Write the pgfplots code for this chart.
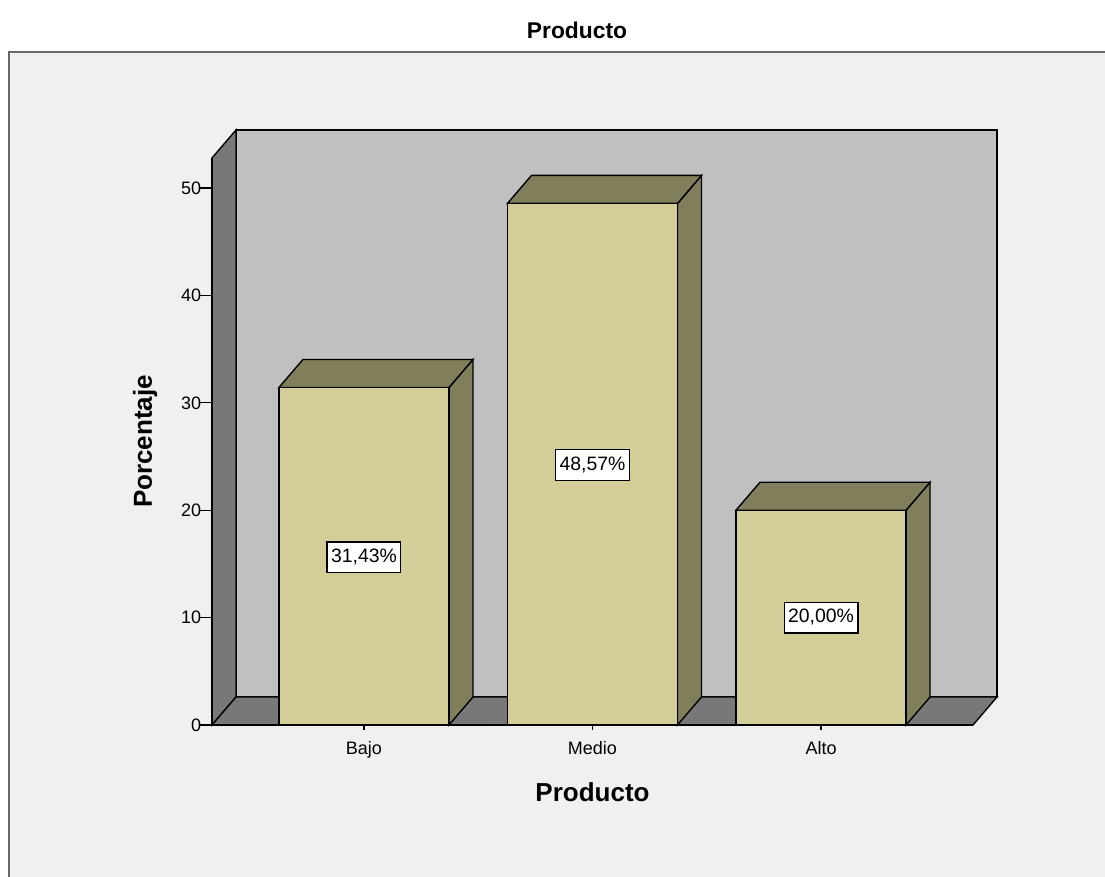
\documentclass[border=0pt]{standalone}
\usepackage{fontspec}
\setmainfont{Liberation Sans}
\usepackage{pgfplots}
\pgfplotsset{compat=1.18}
\definecolor{barfront}{RGB}{211,206,151}
\definecolor{bardark}{RGB}{128,126,91}
\definecolor{backwall}{RGB}{192,192,192}
\definecolor{sidewall}{RGB}{120,120,120}
\definecolor{panel}{RGB}{240,240,240}
\definecolor{panelborder}{RGB}{105,105,105}
\begin{document}
\begin{tikzpicture}
\fill[white] (-106pt,-76pt) rectangle (446.5pt,362.5pt);
\fill[panel] (-101.5pt,-76pt) rectangle (446.5pt,336.5pt);
\draw[panelborder, line width=1pt] (-101.5pt,-76pt) -- (-101.5pt,336.5pt) -- (446.5pt,336.5pt);
\node[font=\bfseries\fontsize{11.4}{13}\selectfont] at (182.5pt,347.5pt) {Producto};
\begin{axis}[
  at={(0,0)}, anchor=south west,
  scale only axis, width=380.5pt, height=283.5pt,
  xmin=-0.665, xmax=2.665, ymin=0, ymax=52.8,
  clip=false, axis on top,
  axis x line*=bottom, axis y line*=left,
  axis line style={line width=0.7pt, black},
  tick align=outside,
  xtick={0,1,2}, xticklabels={Bajo,Medio,Alto},
  ytick={0,10,20,30,40,50},
  xtick style={black, line width=0.6pt, /pgfplots/major tick length=2.5pt},
  ytick style={black, line width=0.6pt, /pgfplots/major tick length=6.5pt},
  /pgf/number format/assume math mode=true,
  tick label style={font=\fontsize{9}{10}\selectfont},
  yticklabel style={inner sep=1pt},
  xticklabel style={inner sep=2pt, yshift=-2pt},
  xlabel={Producto},
  xlabel style={font=\bfseries\fontsize{13}{15}\selectfont, at={(axis description cs:0.5,-0.118)}, anchor=center},
  ylabel={Porcentaje},
  ylabel style={font=\bfseries\fontsize{13}{15}\selectfont, at={(axis description cs:-0.088,0.5)}, anchor=center, rotate=0},
]
% back wall, left wall, floor
\addplot[fill=backwall, draw=black, line width=0.7pt] coordinates {(-0.56,2.607) (2.77,2.607) (2.77,55.407) (-0.56,55.407)} -- cycle;
\addplot[fill=sidewall, draw=black, line width=0.7pt] coordinates {(-0.665,0) (-0.665,52.8) (-0.56,55.407) (-0.56,2.607)} -- cycle;
\addplot[fill=sidewall, draw=black, line width=0.7pt] coordinates {(-0.665,0) (2.665,0) (2.77,2.607) (-0.56,2.607)} -- cycle;
% bar sides
\addplot[fill=bardark, draw=black, line width=0.7pt] coordinates {(0.372,0) (0.372,31.43) (0.477,34.037) (0.477,2.607)} -- cycle;
\addplot[fill=bardark, draw=black, line width=0.7pt] coordinates {(1.372,0) (1.372,48.57) (1.477,51.177) (1.477,2.607)} -- cycle;
\addplot[fill=bardark, draw=black, line width=0.7pt] coordinates {(2.372,0) (2.372,20) (2.477,22.607) (2.477,2.607)} -- cycle;
% bar tops
\addplot[fill=bardark, draw=black, line width=0.7pt] coordinates {(-0.372,31.43) (0.372,31.43) (0.477,34.037) (-0.267,34.037)} -- cycle;
\addplot[fill=bardark, draw=black, line width=0.7pt] coordinates {(0.628,48.57) (1.372,48.57) (1.477,51.177) (0.733,51.177)} -- cycle;
\addplot[fill=bardark, draw=black, line width=0.7pt] coordinates {(1.628,20) (2.372,20) (2.477,22.607) (1.733,22.607)} -- cycle;
% bar fronts
\addplot[ybar, bar width=0.744, fill=barfront, draw=black, line width=0.7pt] coordinates {(0,31.43) (1,48.57) (2,20)};
% value labels
\tikzset{vlab/.style={fill=white, draw=black, line width=0.6pt, font=\fontsize{9.7}{11}\selectfont, inner xsep=2pt, inner ysep=3.2pt, text height=7pt, text depth=2pt}}
\node[vlab] at (axis cs:0,15.6) {31,43\%};
\node[vlab] at (axis cs:1,24.2) {48,57\%};
\node[vlab] at (axis cs:2,10) {20,00\%};
\end{axis}
\pgfresetboundingbox
\useasboundingbox (-106pt,-76pt) rectangle (446.5pt,362.5pt);
\end{tikzpicture}
\end{document}
